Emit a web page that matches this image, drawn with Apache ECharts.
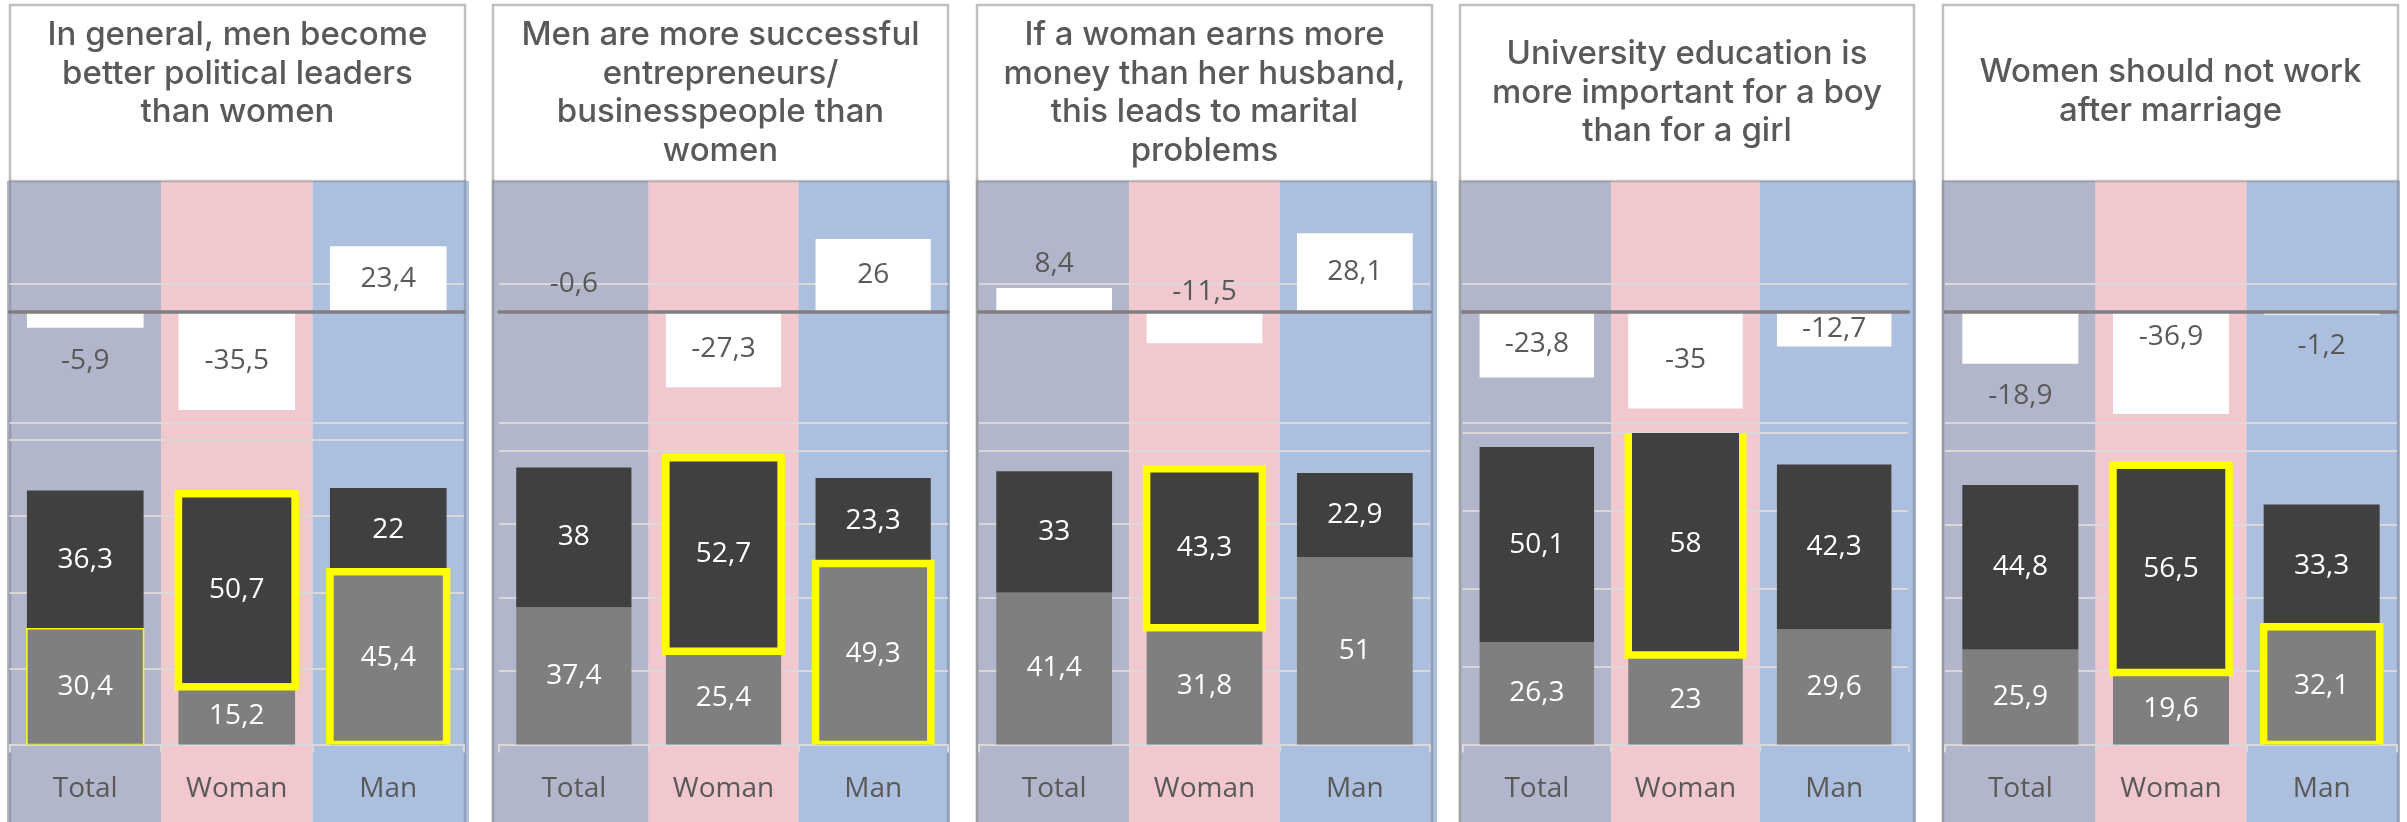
<!DOCTYPE html>
<html>
<head>
<meta charset="utf-8">
<title>Gender attitudes by respondent group</title>
<script src="https://cdn.jsdelivr.net/npm/echarts@6/dist/echarts.min.js"></script>
<style>
  html, body { margin: 0; padding: 0; background: #ffffff; }
  #chart { width: 2407px; height: 822px; }
</style>
</head>
<body>
<div id="chart"></div>
<script>
// ---- data -------------------------------------------------------------
const categories = ['Total', 'Woman', 'Man'];

const statements = [
  'In general, men become\nbetter political leaders\nthan women',
  'Men are more successful\nentrepreneurs/\nbusinesspeople than\nwomen',
  'If a woman earns more\nmoney than her husband,\nthis leads to marital\nproblems',
  'University education is\nmore important for a boy\nthan for a girl',
  'Women should not work\nafter marriage'
];

// lower (light grey) segment of each stacked column
const agree = [
  [30.4, 15.2, 45.4],
  [37.4, 25.4, 49.3],
  [41.4, 31.8, 51],
  [26.3, 23, 29.6],
  [25.9, 19.6, 32.1]
];

// upper (dark grey) segment of each stacked column
const disagree = [
  [36.3, 50.7, 22],
  [38, 52.7, 23.3],
  [33, 43.3, 22.9],
  [50.1, 58, 42.3],
  [44.8, 56.5, 33.3]
];

// white difference bars around the zero line
const net = [
  [-5.9, -35.5, 23.4],
  [-0.6, -27.3, 26],
  [8.4, -11.5, 28.1],
  [-23.8, -35, -12.7],
  [-18.9, -36.9, -1.2]
];

// axis ticks
const netAxisMin = -40, netAxisMax = 10, netAxisStep = 50;
const shareAxisMin = 0, shareAxisMax = 80, shareAxisStep = 20;

// ---- layout & style ---------------------------------------------------
const boxLeft   = [10, 493, 977, 1460, 1943];
const boxRight  = [465, 948, 1432, 1914, 2398];
const fillLeft  = [7, 493, 977, 1461, 1942];
const fillRight = [469, 950, 1437, 1916, 2400];
const axisLeft  = [9.5, 499, 979, 1462.5, 1945];
const axisWidth = [454.5, 449, 451, 446, 452];
const shareTop  = [440, 450.7, 450.7, 433, 451];
const shareBottom = 744.5;
const netTop = 283.5, netHeight = 139;
const fillTop = 181;
const titleTop = [16, 16, 16, 35, 53];
const columnColors = ['#b2b6ca', '#f0c8cd', '#adbfdf'];

// label placement of the white difference bars: [position, distance]
const netLabelPlace = [
  [['bottom', 19], ['inside', 0], ['inside', 0]],
  [['top', 13], ['inside', 0], ['inside', 0]],
  [['top', 10], ['top', 5], ['inside', 0]],
  [['inside', 0], ['inside', 0], ['inside', 0]],
  [['bottom', 18], ['insideTop', 12], ['bottom', 17]]
];

// yellow outlines drawn over selected segments
const outlines = [
  [{ cat: 0, part: 'agree', w: 1.5 }, { cat: 1, part: 'disagree', w: 7.5 }, { cat: 2, part: 'agree', w: 7.5 }],
  [{ cat: 1, part: 'disagree', w: 7.5 }, { cat: 2, part: 'agree', w: 7.5 }],
  [{ cat: 1, part: 'disagree', w: 7.5 }],
  [{ cat: 1, part: 'disagree', w: 7.5 }],
  [{ cat: 1, part: 'disagree', w: 7.5 }, { cat: 2, part: 'agree', w: 7.5 }]
];

const labelFont = "'Open Sans', sans-serif";
const fmt = v => String(v).replace('.', ',');

// ---- build option -----------------------------------------------------
const grid = [], xAxis = [], yAxis = [], series = [], graphic = [];

statements.forEach((text, p) => {
  const gTop = p * 2, gBot = p * 2 + 1;

  // panel frame, coloured column backgrounds, frame edge on top of them
  graphic.push({
    type: 'rect', z: -30, silent: true,
    shape: { x: boxLeft[p], y: 5, width: boxRight[p] - boxLeft[p], height: 840 },
    style: { fill: '#ffffff', stroke: '#bfbfbf', lineWidth: 2.5 }
  });
  const b1 = axisLeft[p] + axisWidth[p] / 3;
  const b2 = axisLeft[p] + axisWidth[p] * 2 / 3;
  const edges = [fillLeft[p], b1, b2, fillRight[p]];
  for (let c = 0; c < 3; c++) {
    graphic.push({
      type: 'rect', z: -20, silent: true,
      shape: { x: edges[c], y: fillTop, width: edges[c + 1] - edges[c], height: 822 - fillTop },
      style: { fill: columnColors[c] }
    });
  }
  graphic.push({
    type: 'rect', z: -10, silent: true,
    shape: { x: boxLeft[p], y: fillTop, width: boxRight[p] - boxLeft[p], height: 700 },
    style: { fill: 'none', stroke: 'rgba(100,100,100,0.35)', lineWidth: 2.5 }
  });
  graphic.push({
    type: 'text', z: 10, silent: true,
    x: (boxLeft[p] + boxRight[p]) / 2, y: titleTop[p],
    style: {
      text: text, fill: '#595959', fontFamily: 'Inter', fontSize: 33, fontWeight: 500,
      lineHeight: 38.5, textAlign: 'center', textVerticalAlign: 'top'
    }
  });

  // upper grid: difference bars around zero
  grid.push({ left: axisLeft[p], width: axisWidth[p], top: netTop, height: netHeight });
  xAxis.push({
    type: 'category', gridIndex: gTop, data: categories, z: 4,
    axisLine: { onZero: true, lineStyle: { color: '#7f7f7f', width: 3.5 } },
    axisTick: { show: false }, axisLabel: { show: false }, splitLine: { show: false }
  });
  yAxis.push({
    type: 'value', gridIndex: gTop, min: netAxisMin, max: netAxisMax, interval: netAxisStep,
    axisLine: { show: false }, axisTick: { show: false }, axisLabel: { show: false },
    splitLine: { show: true, lineStyle: { color: '#d9d9d9', width: 2 } }
  });
  series.push({
    type: 'bar', xAxisIndex: gTop, yAxisIndex: gTop, barWidth: '77%', clip: false,
    itemStyle: { color: '#ffffff' },
    label: { show: true, color: '#595959', fontFamily: labelFont, fontSize: 28, formatter: d => fmt(d.value) },
    data: net[p].map((v, i) => ({
      value: v,
      label: { position: netLabelPlace[p][i][0], distance: netLabelPlace[p][i][1] }
    }))
  });

  // lower grid: stacked shares
  grid.push({ left: axisLeft[p], width: axisWidth[p], top: shareTop[p], height: shareBottom - shareTop[p] });
  xAxis.push({
    type: 'category', gridIndex: gBot, data: categories,
    axisLine: { lineStyle: { color: '#d9d9d9', width: 2 } },
    axisTick: { show: true, length: 8, lineStyle: { color: '#d9d9d9', width: 2 } },
    axisLabel: { color: '#595959', fontFamily: labelFont, fontSize: 28, margin: 31 }
  });
  yAxis.push({
    type: 'value', gridIndex: gBot, min: shareAxisMin, max: shareAxisMax, interval: shareAxisStep,
    axisLine: { show: false }, axisTick: { show: false }, axisLabel: { show: false },
    splitLine: { show: true, lineStyle: { color: '#d9d9d9', width: 2 } }
  });
  const segLabel = { show: true, position: 'inside', color: '#ffffff', fontFamily: labelFont, fontSize: 28, formatter: d => fmt(d.value) };
  series.push({
    type: 'bar', xAxisIndex: gBot, yAxisIndex: gBot, stack: 'share' + p, barWidth: '77%',
    itemStyle: { color: '#7f7f7f' }, label: segLabel, data: agree[p]
  });
  series.push({
    type: 'bar', xAxisIndex: gBot, yAxisIndex: gBot, stack: 'share' + p, barWidth: '77%',
    itemStyle: { color: '#404040' }, label: segLabel, data: disagree[p]
  });

  // yellow outlines, drawn on top of both segments
  const marks = outlines[p];
  series.push({
    type: 'custom', xAxisIndex: gBot, yAxisIndex: gBot, clip: true, z: 5,
    data: marks.map(m => {
      const lo = m.part === 'agree' ? 0 : agree[p][m.cat];
      const hi = lo + (m.part === 'agree' ? agree[p][m.cat] : disagree[p][m.cat]);
      return [m.cat, lo, hi];
    }),
    renderItem: (params, api) => {
      const top = api.coord([api.value(0), api.value(2)]);
      const base = api.coord([api.value(0), api.value(1)]);
      const w = api.size([1, 0])[0] * 0.77;
      return {
        type: 'rect',
        shape: { x: top[0] - w / 2, y: top[1], width: w, height: base[1] - top[1] },
        style: { fill: 'none', stroke: '#ffff00', lineWidth: marks[params.dataIndex].w }
      };
    }
  });
});

const chart = echarts.init(document.getElementById('chart'));
chart.setOption({
  animation: false,
  backgroundColor: '#ffffff',
  grid, xAxis, yAxis, series, graphic
});
</script>
</body>
</html>
